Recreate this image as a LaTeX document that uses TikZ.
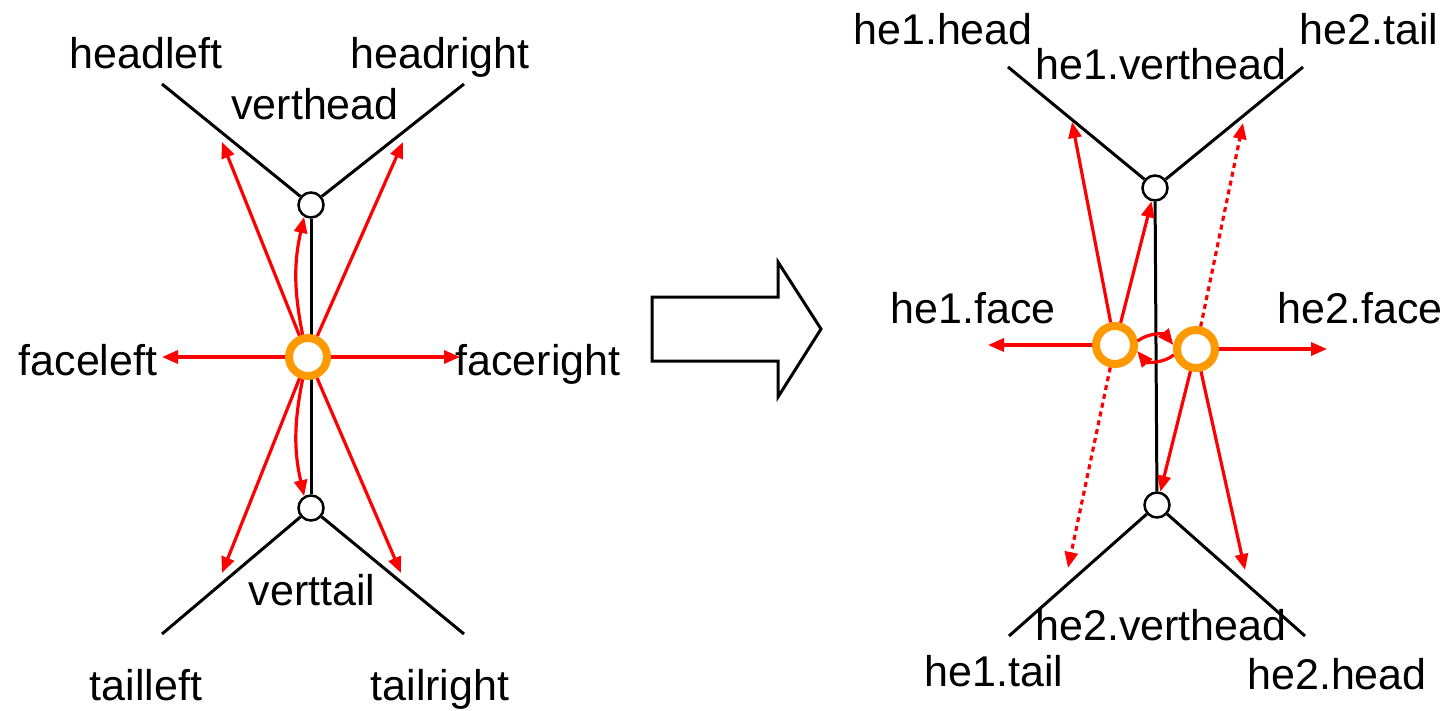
\documentclass[tikz,border=0pt]{standalone}
\usepackage{fontspec}
\setmainfont{Liberation Sans}
\usetikzlibrary{arrows.meta, backgrounds}

\definecolor{faceorange}{RGB}{255,153,0}

\begin{document}
\begin{tikzpicture}[
    x=0.5pt, y=-0.5pt,
    vertnode/.style={circle, draw, fill=white, line width=1.25pt, minimum size=12.5pt, inner sep=0pt},
    facenode/.style={circle, draw=faceorange, fill=white, line width=4pt, minimum size=19pt, inner sep=0pt},
    edgeline/.style={line width=1.5pt},
    link/.style={-{Triangle[length=8pt, width=6.5pt]}, red, line width=1.6pt},
    ghost/.style={link, dash pattern=on 2.5pt off 2pt},
    tag/.style={font=\fontsize{21.5}{26}\selectfont, inner sep=0pt, anchor=base}
]
    \useasboundingbox (0,0) rectangle (1450,711);

    % Left: one edge with its half-edge pointers
    \node[vertnode] (vh) at (311,205) {};
    \node[vertnode] (vt) at (311,508) {};
    \node[facenode] (f) at (308,357) {};
    \coordinate (hl) at (162,84);
    \coordinate (hr) at (464,84);
    \coordinate (tl) at (162,634);
    \coordinate (tr) at (464,634);

    \begin{scope}[on background layer]
        \draw[edgeline] (hl) -- (vh) -- (hr);
        \draw[edgeline] (vh) -- (vt);
        \draw[edgeline] (tl) -- (vt) -- (tr);
    \end{scope}

    \coordinate (phl) at (222,142);
    \coordinate (phr) at (403,142);
    \coordinate (ptl) at (222,573);
    \coordinate (ptr) at (401,573);
    \coordinate (pfl) at (162,357);
    \coordinate (pfr) at (460,357);

    \draw[link] (f) -- (phl);
    \draw[link] (f) -- (phr);
    \draw[link] (f) -- (ptl);
    \draw[link] (f) -- (ptr);
    \draw[link] (f) -- (pfl);
    \draw[link] (f) -- (pfr);
    \draw[link] (f) to[bend left=12] (vh.240);
    \draw[link] (f) to[bend right=12] (vt.120);

    \node[tag] at (146,69) {headleft};
    \node[tag] at (440,69) {headright};
    \node[tag] at (315,120) {verthead};
    \node[tag] at (88,375) {faceleft};
    \node[tag] at (538,375) {faceright};
    \node[tag] at (312,605) {verttail};
    \node[tag] at (146,700) {tailleft};
    \node[tag] at (440,700) {tailright};

    % Block arrow
    \draw[edgeline] (652,297) -- (778,297) -- (778,262) -- (821,329)
        -- (778,397) -- (778,361) -- (652,361) -- cycle;

    % Right: the same edge split into two half-edges
    \node[vertnode] (vh2) at (1155,188) {};
    \node[vertnode] (vt2) at (1157,505) {};
    \node[facenode] (f1) at (1115,345) {};
    \node[facenode] (f2) at (1196,349) {};
    \coordinate (h1) at (1008,67);
    \coordinate (t2) at (1303,67);
    \coordinate (t1) at (1009,636);
    \coordinate (h2) at (1305,636);

    \begin{scope}[on background layer]
        \draw[edgeline] (h1) -- (vh2) -- (t2);
        \draw[edgeline] (vh2) -- (vt2);
        \draw[edgeline] (t1) -- (vt2) -- (h2);
    \end{scope}

    \coordinate (qh1) at (1072,122);
    \coordinate (qf1) at (988,345);
    \coordinate (qt1) at (1068,568);
    \coordinate (qt2) at (1243,123);
    \coordinate (qh2) at (1245,570);
    \coordinate (qf2) at (1327,349);

    \draw[link] (f1) -- (qh1);
    \draw[link] (f1) -- (vh2);
    \draw[link] (f1) -- (qf1);
    \draw[ghost] (f1) -- (qt1);
    \draw[ghost] (f2) -- (qt2);
    \draw[link] (f2) -- (vt2);
    \draw[link] (f2) -- (qh2);
    \draw[link] (f2) -- (qf2);
    \draw[link] (f1.10) to[bend left=45] (f2.170);
    \draw[link] (f2.195) to[bend left=45] (f1.-15);

    \node[tag] at (943,45) {he1.head};
    \node[tag] at (1161,80) {he1.verthead};
    \node[tag] at (1369,45) {he2.tail};
    \node[tag] at (973,323) {he1.face};
    \node[tag] at (1360,323) {he2.face};
    \node[tag] at (1161,640) {he2.verthead};
    \node[tag] at (994,686) {he1.tail};
    \node[tag] at (1337,689) {he2.head};
\end{tikzpicture}
\end{document}
